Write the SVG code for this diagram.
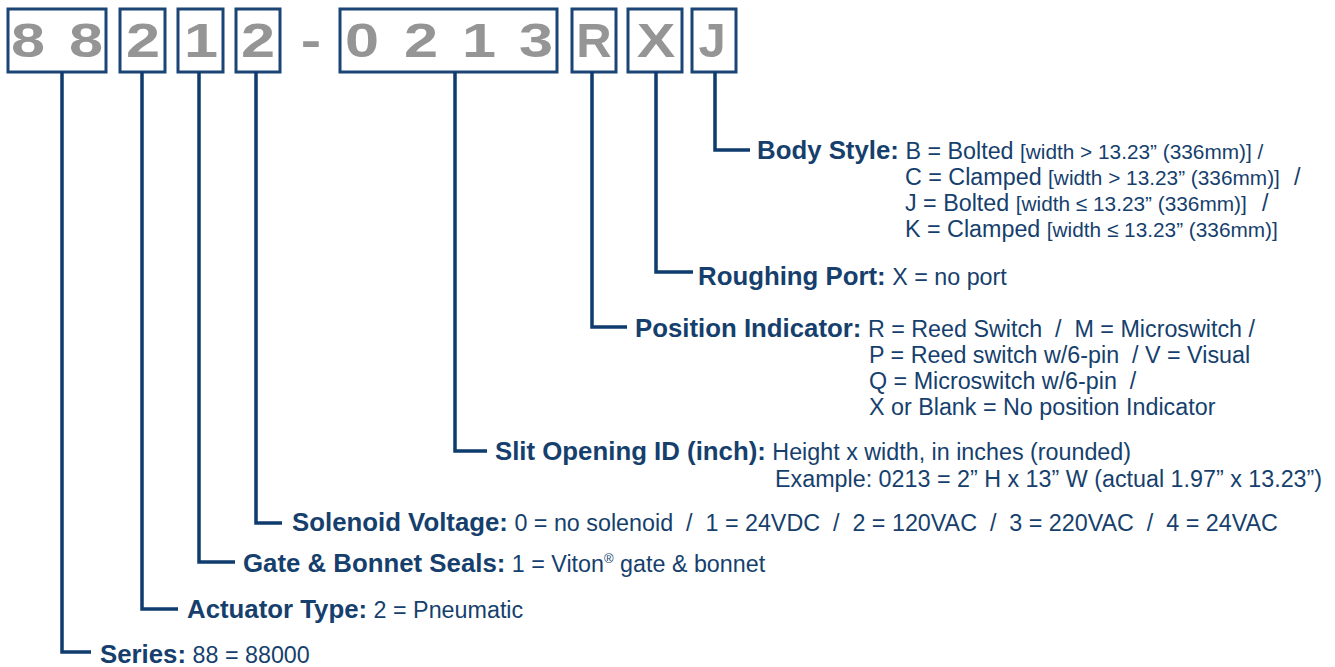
<svg xmlns="http://www.w3.org/2000/svg" width="1335" height="667" viewBox="0 0 1335 667">
<style>
.bx{fill:#fff;stroke:#1a4575;stroke-width:3}
.dg{font-family:"Liberation Sans",Arial,sans-serif;font-weight:bold;font-size:49px;fill:#959595;text-anchor:middle}
.ln{fill:none;stroke:#0f3b6d;stroke-width:3.5}
.t{font-family:"Liberation Sans",Arial,sans-serif;font-size:23.3px;fill:#163f6d}
.b{font-weight:bold;font-size:25.8px}
.s{font-size:20.8px}
.r{font-size:13px}
</style>
<rect width="1335" height="667" fill="#fff"/>
<g id="code">
  <g id="box-series"><rect class="bx" x="8" y="9" width="98" height="63"/>
    <text class="dg" transform="translate(28,57) scale(1.25,1)">8</text>
    <text class="dg" transform="translate(86,57) scale(1.25,1)">8</text></g>
  <g id="box-actuator"><rect class="bx" x="120" y="9" width="45" height="63"/>
    <text class="dg" transform="translate(143,57) scale(1.25,1)">2</text></g>
  <g id="box-seals"><rect class="bx" x="178" y="9" width="45" height="63"/>
    <text class="dg" transform="translate(201,57) scale(1.25,1)">1</text></g>
  <g id="box-solenoid"><rect class="bx" x="236" y="9" width="44" height="63"/>
    <text class="dg" transform="translate(258,57) scale(1.25,1)">2</text></g>
  <g id="dash"><text class="dg" transform="translate(311,57) scale(1.25,1)">-</text></g>
  <g id="box-slit"><rect class="bx" x="340" y="9" width="217" height="63"/>
    <text class="dg" transform="translate(362,57) scale(1.25,1)">0</text>
    <text class="dg" transform="translate(421,57) scale(1.25,1)">2</text>
    <text class="dg" transform="translate(479,57) scale(1.25,1)">1</text>
    <text class="dg" transform="translate(536,57) scale(1.25,1)">3</text></g>
  <g id="box-position"><rect class="bx" x="572" y="9" width="44" height="63"/>
    <text class="dg" transform="translate(594,57)">R</text></g>
  <g id="box-roughing"><rect class="bx" x="628" y="9" width="54" height="63"/>
    <text class="dg" transform="translate(656,57) scale(1.18,1)">X</text></g>
  <g id="box-body"><rect class="bx" x="692" y="9" width="44" height="63"/>
    <text class="dg" transform="translate(712,57)">J</text></g>
</g>
<g id="connectors">
  <path class="ln" d="M62 72V652H91"/>
  <path class="ln" d="M142 72V609H178"/>
  <path class="ln" d="M199 72V562H235"/>
  <path class="ln" d="M256 72V523H282"/>
  <path class="ln" d="M455 72V451H487"/>
  <path class="ln" d="M592 72V327H627"/>
  <path class="ln" d="M656 72V272H693"/>
  <path class="ln" d="M715 72V150H750"/>
</g>
<g id="label-body">
  <text class="t" x="757" y="159" xml:space="preserve"><tspan class="b">Body Style:</tspan> B = Bolted <tspan class="s">[width &gt; 13.23” (336mm)] /</tspan></text>
  <text class="t" x="905" y="185" xml:space="preserve">C = Clamped <tspan class="s">[width &gt; 13.23” (336mm)]</tspan><tspan x="1294">/</tspan></text>
  <text class="t" x="905" y="211" xml:space="preserve">J = Bolted <tspan class="s">[width ≤ 13.23” (336mm)]</tspan><tspan x="1262">/</tspan></text>
  <text class="t" x="905" y="237" xml:space="preserve">K = Clamped <tspan class="s">[width ≤ 13.23” (336mm)]</tspan></text>
</g>
<g id="label-roughing">
  <text class="t" x="698" y="285" xml:space="preserve"><tspan class="b">Roughing Port:</tspan> X = no port</text>
</g>
<g id="label-position">
  <text class="t" x="635" y="337" xml:space="preserve"><tspan class="b">Position Indicator:</tspan> R = Reed Switch  /  M = Microswitch /</text>
  <text class="t" x="869" y="363" xml:space="preserve">P = Reed switch w/6-pin  / V = Visual</text>
  <text class="t" x="869" y="389" xml:space="preserve">Q = Microswitch w/6-pin  /</text>
  <text class="t" x="869" y="415" xml:space="preserve">X or Blank = No position Indicator</text>
</g>
<g id="label-slit">
  <text class="t" x="495" y="460" xml:space="preserve"><tspan class="b">Slit Opening ID (inch):</tspan> Height x width, in inches (rounded)</text>
  <text class="t" x="775" y="487" xml:space="preserve">Example: 0213 = 2” H x 13” W (actual 1.97” x 13.23”)</text>
</g>
<g id="label-solenoid">
  <text class="t" x="292" y="531" xml:space="preserve"><tspan class="b">Solenoid Voltage:</tspan> 0 = no solenoid  /  1 = 24VDC  /  2 = 120VAC  /  3 = 220VAC  /  4 = 24VAC</text>
</g>
<g id="label-seals">
  <text class="t" x="243" y="572" xml:space="preserve"><tspan class="b">Gate &amp; Bonnet Seals:</tspan> 1 = Viton<tspan class="r" dy="-9">®</tspan><tspan dy="9"> gate &amp; bonnet</tspan></text>
</g>
<g id="label-actuator">
  <text class="t" x="187" y="618" xml:space="preserve"><tspan class="b">Actuator Type:</tspan> 2 = Pneumatic</text>
</g>
<g id="label-series">
  <text class="t" x="100" y="663" xml:space="preserve"><tspan class="b">Series:</tspan> 88 = 88000</text>
</g>
</svg>
